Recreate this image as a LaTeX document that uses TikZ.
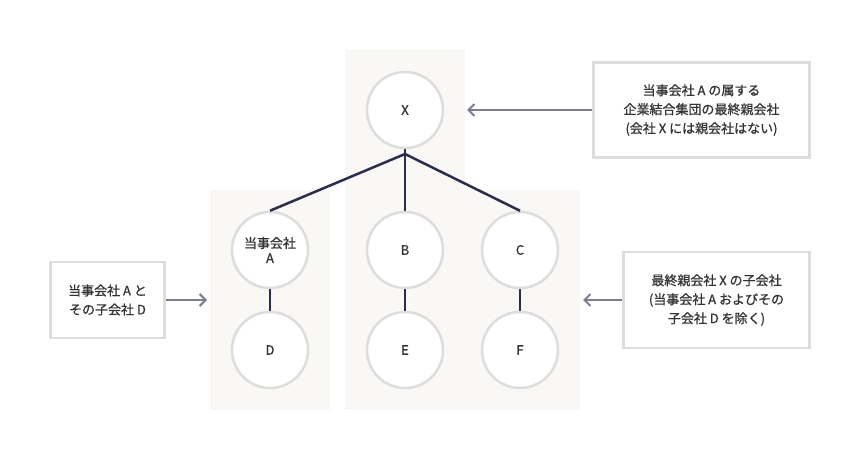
\documentclass[tikz,border=0pt]{standalone}
\usepackage{fontspec}
\setmainfont{Noto Sans CJK JP}[FakeBold=0.8]
\usetikzlibrary{arrows.meta}
\definecolor{panelbg}{HTML}{FAF8F4}
\definecolor{ringgray}{HTML}{DDDDDD}
\definecolor{navy}{HTML}{2A2D50}
\definecolor{arrowgray}{HTML}{7C7C98}
\definecolor{txt}{HTML}{333333}
\tikzset{
  co/.style={circle, draw=ringgray, line width=2.5pt, fill=white, minimum size=76pt, inner sep=0pt, font=\fontsize{13}{15}\selectfont, text=txt, align=center},
  note/.style={draw=ringgray, line width=2.5pt, fill=white, align=center, font=\fontsize{13}{19}\selectfont, text=txt, inner sep=0pt},
  link/.style={navy, line width=2.5pt},
  pointer/.style={arrowgray, line width=2pt, -{Straight Barb[length=6pt,width=12pt]}}
}
\begin{document}
\begin{tikzpicture}[x=1pt,y=-1pt]
        \useasboundingbox (0,0) rectangle (860,460);
        % panels
        \fill [panelbg] (345,50) rectangle (465,190);
        \fill [panelbg] (210,190) rectangle (330,410);
        \fill [panelbg] (345,190) rectangle (580,410);
        % companies
        \node [co] (X) at (405,110) {X};
        \node [co] (A) at (270,250) {当事会社\\A};
        \node [co] (B) at (405,250) {B};
        \node [co] (C) at (520,250) {C};
        \node [co] (D) at (270,350) {D};
        \node [co] (E) at (405,350) {E};
        \node [co] (F) at (520,350) {F};
        \coordinate (top) at (405,154);
        \draw [link] (X.south) -- (top);
        \foreach \n in {A, B, C}
            \draw [link] (top) -- (\n.north);
        \foreach \u/\l in {A/D, B/E, C/F}
            \draw [link] (\u.south) -- (\l.north);
        % notes
        \node [note, minimum width=216pt, minimum height=95pt] (parent) at (701.5,110) {当事会社 A の属する\\企業結合集団の最終親会社\\(会社 X には親会社はない)};
        \node [note, minimum width=114pt, minimum height=76pt] (self) at (107.5,300) {当事会社 A と\\その子会社 D};
        \node [note, minimum width=186pt, minimum height=96pt] (subs) at (716.5,300) {最終親会社 X の子会社\\(当事会社 A およびその\\子会社 D を除く)};
        \coordinate (topin) at (467,110);
        \coordinate (leftin) at (207,300);
        \coordinate (rightin) at (583,300);
        \draw [pointer] (parent) -- (topin);
        \draw [pointer] (self) -- (leftin);
        \draw [pointer] (subs) -- (rightin);
\end{tikzpicture}
\end{document}
